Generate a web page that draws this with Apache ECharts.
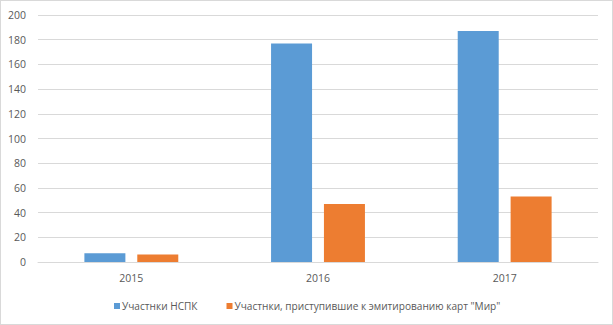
<!DOCTYPE html>
<html>
<head>
<meta charset="utf-8">
<script src="https://cdn.jsdelivr.net/npm/echarts@6/dist/echarts.min.js"></script>
<style>
  html, body { margin: 0; padding: 0; background: #fff; }
  #chart { width: 613px; height: 325px; box-sizing: border-box; border: 1px solid #d9d9d9; }
</style>
</head>
<body>
<div id="chart"></div>
<script>
var years = ['2015', '2016', '2017'];
var seriesNames = ['Участнки НСПК', 'Участнки, приступившие к эмитированию карт "Мир"'];
var members = [7, 177, 187];
var issuers = [6, 47, 53];

var chart = echarts.init(document.getElementById('chart'), null, { renderer: 'svg' });
var font = '"Open Sans", "Noto Sans", sans-serif';
chart.setOption({
  animation: false,
  textStyle: { fontFamily: font },
  grid: { left: 37, right: 14, top: 14, bottom: 62 },
  legend: {
    bottom: 8,
    left: 108,
    itemWidth: 6, itemHeight: 6, itemGap: 29,
    icon: 'rect',
    textStyle: { color: '#595959', fontSize: 10.1, fontFamily: font, padding: [0, 0, 0, -3] },
    data: seriesNames
  },
  xAxis: {
    type: 'category',
    data: years,
    axisLine: { lineStyle: { color: '#d9d9d9' } },
    axisTick: { show: false },
    axisLabel: { color: '#595959', fontSize: 10.5, margin: 10 }
  },
  yAxis: {
    type: 'value',
    min: 0, max: 200, interval: 20,
    axisLine: { show: false },
    axisTick: { show: false },
    axisLabel: { color: '#595959', fontSize: 10.5, margin: 12 },
    splitLine: { lineStyle: { color: '#d9d9d9' } }
  },
  series: [
    { name: seriesNames[0], type: 'bar', data: members, barWidth: 41, barGap: '29%',
      itemStyle: { color: '#5b9bd5' } },
    { name: seriesNames[1], type: 'bar', data: issuers, barWidth: 41,
      itemStyle: { color: '#ed7d31' } }
  ]
});
</script>
</body>
</html>
